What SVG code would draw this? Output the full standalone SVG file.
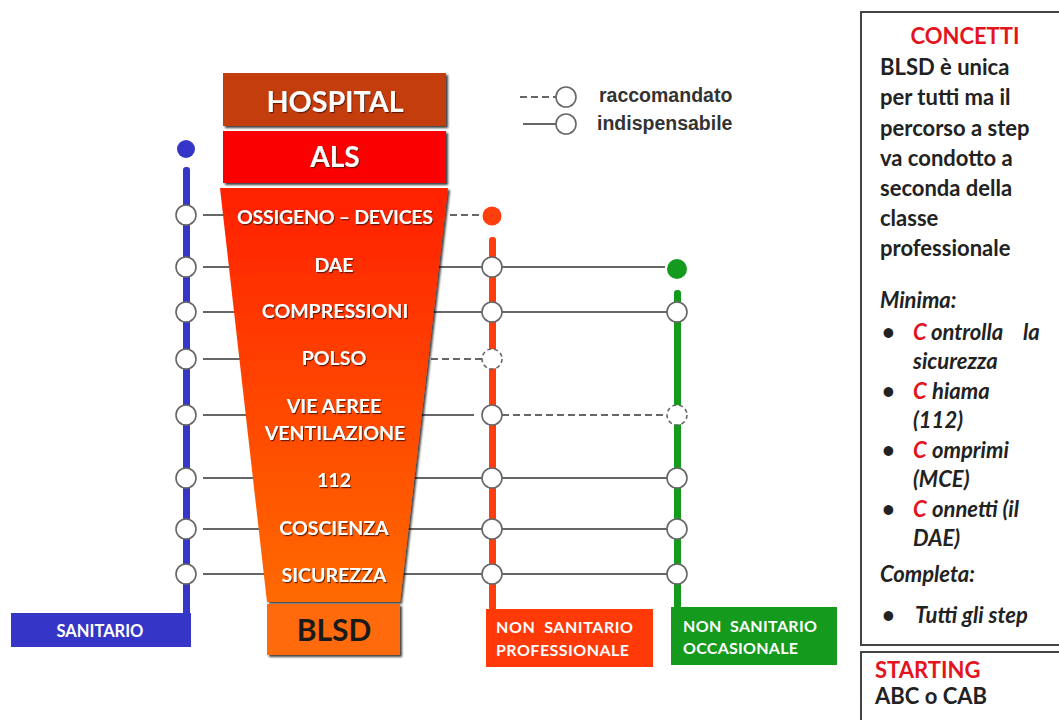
<svg xmlns="http://www.w3.org/2000/svg" width="1059" height="720" viewBox="0 0 1059 720">
  <style>
    .lbl { font-family: Lato, "Open Sans", "Liberation Sans", sans-serif; font-weight: bold; }
    .fun { font-family: Lato, "Liberation Sans", sans-serif; font-weight: bold; font-size: 19.5px; fill: #fff; text-anchor: middle; filter: url(#tsh); }
    .leg { font-family: "Liberation Sans", Arial, sans-serif; font-weight: bold; font-size: 19.5px; fill: #333; }
    .body { font-family: Lato, "Liberation Sans", sans-serif; font-weight: bold; font-size: 22px; fill: #222; }
    .it { font-style: italic; }
    .red { fill: #e3141e; }
    .conn { stroke: #666; stroke-width: 2; fill: none; }
    .dash { stroke-dasharray: 7 4; }
    .node { fill: #fff; stroke: #666; stroke-width: 1.6; }
    .dnode { fill: #fff; stroke: #666; stroke-width: 1.6; stroke-dasharray: 4 3; }
  </style>
  <defs>
    <linearGradient id="fg" x1="0" y1="0" x2="0" y2="1">
      <stop offset="0" stop-color="#ff2000"/>
      <stop offset="1" stop-color="#ff6a00"/>
    </linearGradient>
    <filter id="sh" x="-10%" y="-10%" width="130%" height="130%">
      <feDropShadow dx="2" dy="2" stdDeviation="1" flood-color="#000" flood-opacity="0.75"/>
    </filter>
    <filter id="tsh" x="-10%" y="-30%" width="120%" height="160%">
      <feDropShadow dx="1" dy="1.2" stdDeviation="0.6" flood-color="#5a1800" flood-opacity="0.9"/>
    </filter>
  </defs>
  <rect width="1059" height="720" fill="#fff"/>

  <!-- connectors -->
  <g id="connectors">
    <!-- blue side -->
    <line class="conn" x1="203" y1="215" x2="228" y2="215"/>
    <line class="conn" x1="203" y1="267" x2="234" y2="267"/>
    <line class="conn" x1="203" y1="312" x2="239" y2="312"/>
    <line class="conn" x1="203" y1="359" x2="244" y2="359"/>
    <line class="conn" x1="203" y1="415" x2="250" y2="415"/>
    <line class="conn" x1="203" y1="478" x2="258" y2="478"/>
    <line class="conn" x1="203" y1="529" x2="263" y2="529"/>
    <line class="conn" x1="203" y1="574" x2="268" y2="574"/>
    <!-- funnel to orange -->
    <line class="conn dash" x1="450" y1="215" x2="482" y2="215"/>
    <line class="conn" x1="434" y1="267" x2="482" y2="267"/>
    <line class="conn" x1="429" y1="312" x2="482" y2="312"/>
    <line class="conn dash" x1="431" y1="359" x2="482" y2="359"/>
    <line class="conn" x1="417" y1="415" x2="474" y2="415"/>
    <line class="conn" x1="410" y1="478" x2="482" y2="478"/>
    <line class="conn" x1="404" y1="529" x2="482" y2="529"/>
    <line class="conn" x1="398" y1="574" x2="482" y2="574"/>
    <!-- orange to green -->
    <line class="conn" x1="502" y1="267" x2="665" y2="267"/>
    <line class="conn" x1="502" y1="312" x2="667" y2="312"/>
    <line class="conn dash" x1="502" y1="415" x2="667" y2="415"/>
    <line class="conn" x1="502" y1="478" x2="667" y2="478"/>
    <line class="conn" x1="502" y1="529" x2="667" y2="529"/>
    <line class="conn" x1="502" y1="574" x2="667" y2="574"/>
  </g>

  <!-- funnel stack -->
  <g id="hospital">
    <rect x="223" y="73" width="223" height="53" fill="#c43d0e" filter="url(#sh)"/>
    <text class="lbl" x="335" y="112" font-size="29" fill="#fff" text-anchor="middle" textLength="137" lengthAdjust="spacingAndGlyphs" filter="url(#tsh)">HOSPITAL</text>
  </g>
  <g id="als">
    <rect x="223" y="131" width="223" height="52" fill="#fb0000" filter="url(#sh)"/>
    <text class="lbl" x="335" y="167" font-size="28" fill="#fff" text-anchor="middle" filter="url(#tsh)">ALS</text>
  </g>
  <g id="funnel">
    <polygon points="220,188 448,188 400,602 267,602" fill="url(#fg)" filter="url(#sh)"/>
    <text class="fun" x="335" y="224" textLength="196">OSSIGENO – DEVICES</text>
    <text class="fun" x="334" y="272">DAE</text>
    <text class="fun" x="335" y="318">COMPRESSIONI</text>
    <text class="fun" x="334" y="365">POLSO</text>
    <text class="fun" x="334" y="413">VIE AEREE</text>
    <text class="fun" x="335" y="440">VENTILAZIONE</text>
    <text class="fun" x="334" y="487">112</text>
    <text class="fun" x="334" y="535">COSCIENZA</text>
    <text class="fun" x="334" y="582">SICUREZZA</text>
  </g>
  <g id="blsd">
    <rect x="267" y="604" width="133" height="51" fill="#ff6a0a" filter="url(#sh)"/>
    <text class="lbl" x="334" y="641" font-size="30" fill="#1a1a1a" text-anchor="middle">BLSD</text>
  </g>

  <!-- sanitario line -->
  <g id="sanitario">
    <circle cx="186" cy="149" r="9" fill="#3535c8"/>
    <rect x="183" y="167" width="7" height="450" rx="3" fill="#3535c8"/>
    <rect x="11" y="613" width="180" height="34" fill="#3535c8"/>
    <text class="lbl" x="100" y="637" font-size="16.5" fill="#fff" text-anchor="middle">SANITARIO</text>
    <circle class="node" cx="186" cy="215" r="10"/>
    <circle class="node" cx="186" cy="267" r="10"/>
    <circle class="node" cx="186" cy="312" r="10"/>
    <circle class="node" cx="186" cy="359" r="10"/>
    <circle class="node" cx="186" cy="415" r="10"/>
    <circle class="node" cx="186" cy="478" r="10"/>
    <circle class="node" cx="186" cy="529" r="10"/>
    <circle class="node" cx="186" cy="574" r="10"/>
  </g>

  <!-- non sanitario professionale -->
  <g id="professionale">
    <circle cx="492" cy="216" r="9.5" fill="#ff3d0d"/>
    <rect x="489" y="237" width="7" height="374" rx="3" fill="#ff3d0d"/>
    <rect x="486" y="609" width="167" height="58" fill="#ff3a08"/>
    <text class="lbl" x="496" y="633" font-size="16" fill="#fff" textLength="137" xml:space="preserve">NON  SANITARIO</text>
    <text class="lbl" x="496" y="656" font-size="16" fill="#fff" textLength="133">PROFESSIONALE</text>
    <circle class="node" cx="492" cy="267" r="10"/>
    <circle class="node" cx="492" cy="312" r="10"/>
    <circle class="dnode" cx="492" cy="359" r="10"/>
    <circle class="node" cx="492" cy="415" r="10"/>
    <circle class="node" cx="492" cy="478" r="10"/>
    <circle class="node" cx="492" cy="529" r="10"/>
    <circle class="node" cx="492" cy="574" r="10"/>
  </g>

  <!-- non sanitario occasionale -->
  <g id="occasionale">
    <circle cx="677" cy="269" r="10" fill="#149a1c"/>
    <rect x="674" y="290" width="7" height="319" rx="3" fill="#149a1c"/>
    <rect x="671" y="607" width="166" height="58" fill="#149a1c"/>
    <text class="lbl" x="683" y="632" font-size="16" fill="#fff" textLength="134" xml:space="preserve">NON  SANITARIO</text>
    <text class="lbl" x="683" y="654" font-size="16" fill="#fff" textLength="115">OCCASIONALE</text>
    <circle class="node" cx="677" cy="312" r="10"/>
    <circle class="dnode" cx="677" cy="415" r="10"/>
    <circle class="node" cx="677" cy="478" r="10"/>
    <circle class="node" cx="677" cy="529" r="10"/>
    <circle class="node" cx="677" cy="574" r="10"/>
  </g>

  <!-- legend -->
  <g id="legend">
    <line class="conn dash" x1="520" y1="97" x2="556" y2="97" stroke="#555"/>
    <circle class="node" cx="566" cy="97" r="10" stroke="#555"/>
    <text class="leg" x="599" y="102">raccomandato</text>
    <line class="conn" x1="523" y1="124" x2="556" y2="124" stroke="#555"/>
    <circle class="node" cx="566" cy="124" r="10" stroke="#555"/>
    <text class="leg" x="597" y="130">indispensabile</text>
  </g>

  <!-- concetti panel -->
  <g id="concetti">
    <rect x="861" y="12" width="220" height="633" fill="#fff" stroke="#444" stroke-width="2"/>
    <text class="body red" x="965" y="44" font-size="21" text-anchor="middle">CONCETTI</text>
    <text class="body" x="880" y="75">BLSD è unica</text>
    <text class="body" x="880" y="105">per tutti ma il</text>
    <text class="body" x="880" y="136">percorso a step</text>
    <text class="body" x="880" y="166">va condotto a</text>
    <text class="body" x="880" y="196">seconda della</text>
    <text class="body" x="880" y="226">classe</text>
    <text class="body" x="880" y="256">professionale</text>
    <text class="body it" x="880" y="308">Minima:</text>
    <text class="body" x="882" y="340">•</text>
    <text class="body it red" x="913" y="340">C</text>
    <text class="body it" x="931" y="340">ontrolla</text>
    <text class="body it" x="1023" y="340">la</text>
    <text class="body it" x="913" y="369">sicurezza</text>
    <text class="body" x="882" y="399">•</text>
    <text class="body it red" x="913" y="399">C</text>
    <text class="body it" x="932" y="399">hiama</text>
    <text class="body it" x="913" y="428">(112)</text>
    <text class="body" x="882" y="458">•</text>
    <text class="body it red" x="913" y="458">C</text>
    <text class="body it" x="932" y="458">omprimi</text>
    <text class="body it" x="913" y="487">(MCE)</text>
    <text class="body" x="882" y="517">•</text>
    <text class="body it red" x="913" y="517">C</text>
    <text class="body it" x="932" y="517">onnetti (il</text>
    <text class="body it" x="913" y="546">DAE)</text>
    <text class="body it" x="880" y="582">Completa:</text>
    <text class="body" x="882" y="623">•</text>
    <text class="body it" x="915" y="623">Tutti gli step</text>
  </g>

  <!-- starting panel -->
  <g id="starting">
    <rect x="861" y="652" width="220" height="100" fill="#fff" stroke="#444" stroke-width="2"/>
    <text class="body red" x="875" y="678" font-size="21">STARTING</text>
    <text class="body" x="875" y="704" font-size="21">ABC o CAB</text>
  </g>
</svg>
